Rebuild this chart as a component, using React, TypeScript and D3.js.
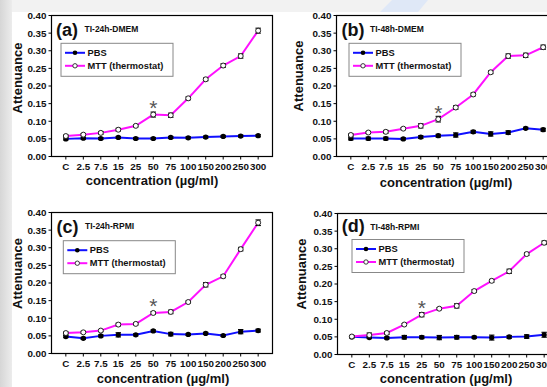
import React from "react";
import * as d3 from "d3";

const categories = ["C", "2.5", "7.5", "15", "25", "50", "75", "100", "150", "200", "250", "300"];
const yTicks = [0, 0.05, 0.1, 0.15, 0.2, 0.25, 0.3, 0.35, 0.4];

const pbsA = [0.050, 0.052, 0.051, 0.054, 0.051, 0.051, 0.054, 0.053, 0.055, 0.057, 0.058, 0.059];
const pbsErrA = [0.003, 0.003, 0.003, 0.003, 0.003, 0.003, 0.003, 0.003, 0.003, 0.003, 0.003, 0.003];
const mttA = [0.058, 0.062, 0.067, 0.076, 0.087, 0.119, 0.117, 0.165, 0.219, 0.258, 0.285, 0.357];
const mttErrA = [0.003, 0.003, 0.004, 0.004, 0.003, 0.007, 0.006, 0.004, 0.004, 0.005, 0.006, 0.007];

const pbsB = [0.051, 0.051, 0.051, 0.050, 0.055, 0.059, 0.061, 0.070, 0.064, 0.068, 0.080, 0.076];
const pbsErrB = [0.004, 0.004, 0.004, 0.003, 0.004, 0.004, 0.006, 0.004, 0.006, 0.005, 0.003, 0.004];
const mttB = [0.061, 0.068, 0.070, 0.079, 0.087, 0.106, 0.139, 0.176, 0.239, 0.285, 0.287, 0.310];
const mttErrB = [0.003, 0.003, 0.004, 0.003, 0.006, 0.008, 0.005, 0.004, 0.004, 0.006, 0.006, 0.006];

const pbsC = [0.048, 0.043, 0.050, 0.053, 0.053, 0.064, 0.055, 0.054, 0.057, 0.051, 0.062, 0.065];
const pbsErrC = [0.003, 0.003, 0.003, 0.006, 0.003, 0.003, 0.005, 0.003, 0.003, 0.003, 0.006, 0.004];
const mttC = [0.058, 0.060, 0.065, 0.082, 0.084, 0.115, 0.118, 0.146, 0.195, 0.219, 0.296, 0.371];
const mttErrC = [0.003, 0.003, 0.003, 0.004, 0.003, 0.004, 0.005, 0.003, 0.006, 0.004, 0.005, 0.008];

const pbsD = [0.050, 0.048, 0.047, 0.049, 0.049, 0.048, 0.049, 0.049, 0.048, 0.050, 0.051, 0.056];
const pbsErrD = [0.003, 0.003, 0.003, 0.005, 0.004, 0.006, 0.005, 0.003, 0.007, 0.004, 0.005, 0.007];
const mttD = [0.051, 0.055, 0.061, 0.085, 0.113, 0.130, 0.138, 0.180, 0.209, 0.236, 0.285, 0.317];
const mttErrD = [0.003, 0.006, 0.004, 0.003, 0.006, 0.003, 0.006, 0.004, 0.004, 0.006, 0.004, 0.005];

const panelLetters = ["(a)", "(b)", "(c)", "(d)"];
const panelTitles = ["TI-24h-DMEM", "TI-48h-DMEM", "TI-24h-RPMI", "TI-48h-RPMI"];
const starCategory = ["50", "50", "50", "25"];
const seriesNames = ["PBS", "MTT (thermostat)"];
const yTitle = "Attenuance";
const xTitle = "concentration (\u00b5g/ml)";

const FONT = "'Liberation Sans', Arial, Helvetica, sans-serif";
const BLUE = "#1010ff";
const MAGENTA = "#ff10ff";

type Layout = {
  left: number; top: number; legX: number; legY: number;
  yTitleX: number; yTitleY: number; xTitleX: number; xTitleY: number;
  letterDX: number; letterDY: number;
};

const layouts: Layout[] = [
  { left: 51.5, top: 15.5, legX: 61, legY: 43.3, yTitleX: 17, yTitleY: 78, xTitleX: 152, xTitleY: 185, letterDX: 4.5, letterDY: 20.5 },
  { left: 336.5, top: 15.5, legX: 349, legY: 43.3, yTitleX: 298, yTitleY: 76, xTitleX: 446, xTitleY: 187, letterDX: 5, letterDY: 20.5 },
  { left: 51.5, top: 212.5, legX: 63.3, legY: 240.7, yTitleX: 17, yTitleY: 273.5, xTitleX: 163, xTitleY: 383, letterDX: 5, letterDY: 20 },
  { left: 337.5, top: 213.5, legX: 352, legY: 239.5, yTitleX: 301, yTitleY: 274, xTitleX: 446, xTitleY: 383, letterDX: 4.2, letterDY: 18.5 },
];

const panelData = [
  { pbs: pbsA, pbsErr: pbsErrA, mtt: mttA, mttErr: mttErrA },
  { pbs: pbsB, pbsErr: pbsErrB, mtt: mttB, mttErr: mttErrB },
  { pbs: pbsC, pbsErr: pbsErrC, mtt: mttC, mttErr: mttErrC },
  { pbs: pbsD, pbsErr: pbsErrD, mtt: mttD, mttErr: mttErrD },
];

const W = 221;
const H = 141;

function Panel({ idx }: { idx: number }) {
  const L = layouts[idx];
  const D = panelData[idx];
  const x = d3.scalePoint<string>().domain(categories).range([L.left, L.left + W]).padding(0.82);
  const y = d3.scaleLinear().domain([0, 0.4]).range([L.top + H, L.top]);
  const line = d3
    .line<number>()
    .x((_, i) => x(categories[i]) as number)
    .y((v) => y(v));

  const errBars = (vals: number[], errs: number[], key: string) =>
    vals.map((v, i) => {
      const cx = x(categories[i]) as number;
      const y1 = y(v + errs[i]);
      const y2 = y(v - errs[i]);
      return (
        <g key={key + i} stroke="#000" strokeWidth={1.1}>
          <line x1={cx} x2={cx} y1={y1} y2={y2} />
          <line x1={cx - 2.7} x2={cx + 2.7} y1={y1} y2={y1} />
          <line x1={cx - 2.7} x2={cx + 2.7} y1={y2} y2={y2} />
        </g>
      );
    });

  const sIdx = categories.indexOf(starCategory[idx]);
  const starX = x(starCategory[idx]) as number;
  const starCenterY = y(D.mtt[sIdx]) - 11;

  return (
    <g>
      {yTicks.map((t) => (
        <g key={"yt" + t}>
          <line x1={L.left - 3} x2={L.left} y1={y(t)} y2={y(t)} stroke="#000" strokeWidth={1} />
          <text x={L.left - 5} y={y(t)} dy="0.35em" textAnchor="end" fontSize={9.8} fontWeight="bold" fontFamily={FONT} fill="#111">
            {t.toFixed(2)}
          </text>
        </g>
      ))}
      {categories.map((c) => (
        <g key={"xt" + c}>
          <line x1={x(c)} x2={x(c)} y1={L.top + H} y2={L.top + H + 3} stroke="#000" strokeWidth={1} />
          <text x={x(c)} y={L.top + H + 13.5} textAnchor="middle" fontSize={9.8} fontWeight="bold" fontFamily={FONT} fill="#111">
            {c}
          </text>
        </g>
      ))}
      <path d={line(D.pbs) || ""} fill="none" stroke={BLUE} strokeWidth={2} />
      <path d={line(D.mtt) || ""} fill="none" stroke={MAGENTA} strokeWidth={2} />
      {errBars(D.pbs, D.pbsErr, "pe")}
      {errBars(D.mtt, D.mttErr, "me")}
      {D.pbs.map((v, i) => (
        <circle key={"pc" + i} cx={x(categories[i])} cy={y(v)} r={2.6} fill="#000" />
      ))}
      {D.mtt.map((v, i) => (
        <circle key={"mc" + i} cx={x(categories[i])} cy={y(v)} r={2.5} fill="#fff" stroke="#222" strokeWidth={1} />
      ))}
      <text x={starX} y={starCenterY + 11.5} textAnchor="middle" fontSize={21} fontFamily={FONT} fill="#555">
        *
      </text>
      <rect x={L.left} y={L.top} width={W} height={H} fill="none" stroke="#000" strokeWidth={1.2} />
      <text x={L.left + L.letterDX} y={L.top + L.letterDY} fontSize={18} fontWeight="bold" fontFamily={FONT} fill="#111">
        {panelLetters[idx]}
      </text>
      <text x={L.left + L.letterDX + 28.5} y={L.top + 16} fontSize={8.5} fontWeight="bold" fontFamily={FONT} fill="#111">
        {panelTitles[idx]}
      </text>
      <rect x={L.legX} y={L.legY} width={112} height={33} fill="#fff" stroke="#888" strokeWidth={1} />
      <line x1={L.legX + 4} x2={L.legX + 24} y1={L.legY + 9.5} y2={L.legY + 9.5} stroke={BLUE} strokeWidth={2} />
      <circle cx={L.legX + 14} cy={L.legY + 9.5} r={2.3} fill="#000" />
      <text x={L.legX + 26.5} y={L.legY + 9.5} dy="0.35em" fontSize={9.3} fontWeight="bold" fontFamily={FONT} fill="#111">
        {seriesNames[0]}
      </text>
      <line x1={L.legX + 4} x2={L.legX + 24} y1={L.legY + 22.5} y2={L.legY + 22.5} stroke={MAGENTA} strokeWidth={2} />
      <circle cx={L.legX + 14} cy={L.legY + 22.5} r={2.2} fill="#fff" stroke="#222" strokeWidth={0.9} />
      <text x={L.legX + 26.5} y={L.legY + 22.5} dy="0.35em" fontSize={9.3} fontWeight="bold" fontFamily={FONT} fill="#111">
        {seriesNames[1]}
      </text>
      <text
        transform={`translate(${L.yTitleX},${L.yTitleY}) rotate(-90)`}
        textAnchor="middle"
        dy="0.35em"
        fontSize={13}
        fontWeight="bold"
        fontFamily={FONT}
        fill="#111"
      >
        {yTitle}
      </text>
      <text x={L.xTitleX} y={L.xTitleY} textAnchor="middle" fontSize={13} fontWeight="bold" fontFamily={FONT} fill="#111">
        {xTitle}
      </text>
    </g>
  );
}

export default function App() {
  return (
    <svg
      width={547}
      height={387}
      style={{ position: "absolute", left: 0, top: 0, display: "block" }}
      xmlns="http://www.w3.org/2000/svg"
    >
      <defs>
        <linearGradient id="leftShade" x1="0" x2="1" y1="0" y2="0">
          <stop offset="0" stopColor="#d6d6d6" />
          <stop offset="1" stopColor="#ececec" />
        </linearGradient>
      </defs>
      <rect x={0} y={0} width={547} height={387} fill="#f2f2f2" />
      <rect x={0} y={0} width={12} height={387} fill="url(#leftShade)" />
      <polygon points="392,0 428,0 418,12 380,12" fill="#dfe8f7" />
      <rect x={12} y={12} width={535} height={375} fill="#fff" />
      {[0, 1, 2, 3].map((i) => (
        <Panel key={i} idx={i} />
      ))}
    </svg>
  );
}
